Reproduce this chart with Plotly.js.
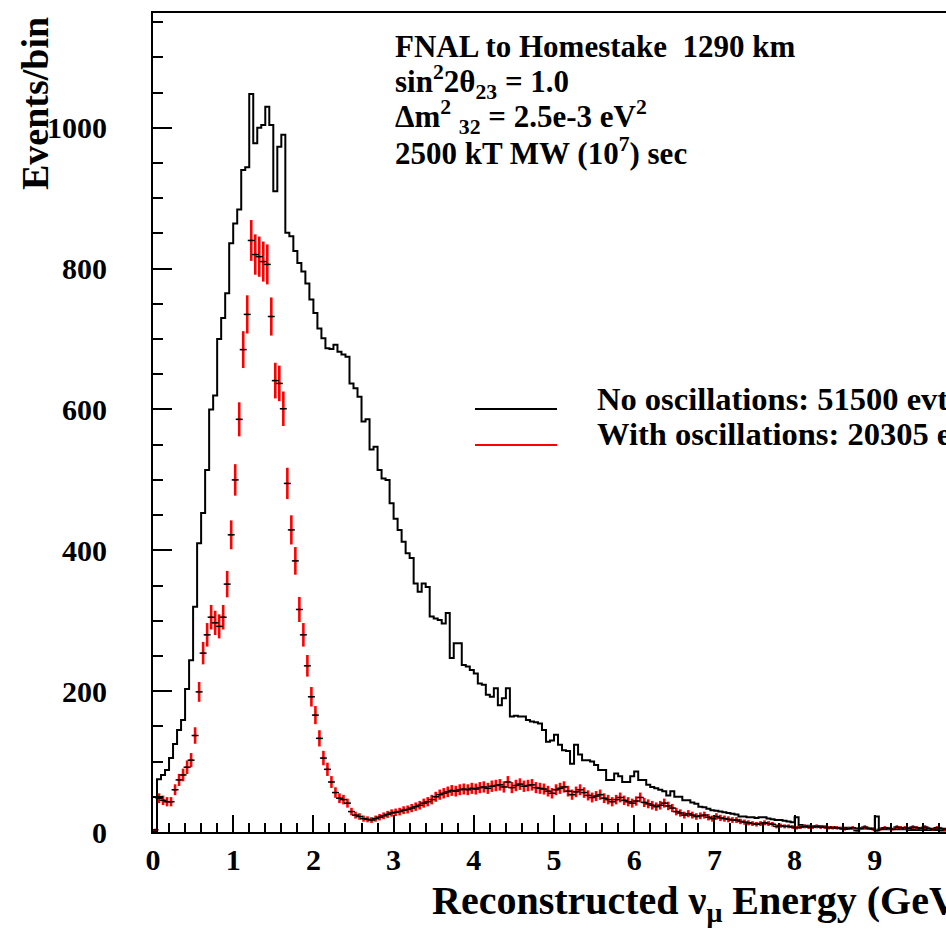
<!DOCTYPE html>
<html>
<head>
<meta charset="utf-8">
<script src="https://cdn.plot.ly/plotly-3.0.1.min.js"></script>
<style>
  html, body { margin: 0; padding: 0; overflow: hidden; background: #ffffff; }
  #chart { width: 1000px; height: 930px; }
</style>
</head>
<body>
<div id="chart"></div>
<script>
// ---------------- data ----------------
const binWidth = 0.05;   // GeV, 200 bins from 0 to 10 GeV

// Events/bin without oscillations (black histogram)
const noOscCounts = [
  0, 75, 81, 88, 105, 125, 145, 159, 203, 244,
  320, 410, 453, 514, 600, 620, 700, 730, 765, 836,
  864, 884, 940, 944, 1048, 978, 1000, 1004, 1030, 1004,
  910, 973, 990, 851, 846, 825, 808, 796, 779, 756,
  737, 715, 701, 687, 686, 692, 682, 678, 675, 637,
  630, 618, 583, 586, 543, 547, 514, 502, 500, 467,
  445, 429, 412, 396, 389, 353, 341, 353, 348, 306,
  303, 301, 296, 311, 247, 268, 268, 237, 235, 230,
  225, 211, 209, 195, 192, 204, 180, 190, 204, 164,
  165, 164, 164, 159, 157, 156, 154, 145, 128, 130,
  138, 124, 116, 115, 97, 124, 110, 102, 102, 100,
  95, 88, 88, 74, 74, 83, 79, 71, 71, 79,
  86, 74, 74, 67, 64, 62, 60, 58, 52, 58,
  50, 50, 45, 45, 42, 40, 36, 35, 33, 31,
  30, 29, 28, 27, 26, 25, 22, 22, 21, 21,
  20, 21, 21, 19, 18, 17, 17, 16, 15, 14,
  21, 10, 9, 9, 8, 8, 8, 7, 7, 7,
  6, 6, 6, 6, 5, 5, 5, 5, 5, 5,
  22, 5, 4, 4, 4, 4, 4, 4, 3, 3,
  3, 3, 3, 3, 3, 3, 2, 2, 2, 2
];

// Events/bin with oscillations (red points with error bars)
const oscCounts = [
  3, 48, 45, 43, 43, 60, 74, 81, 92, 102,
  137, 199, 254, 280, 305, 297, 292, 305, 352, 422,
  500, 586, 685, 735, 840, 820, 817, 810, 806, 732,
  641, 637, 601, 495, 429, 385, 316, 280, 236, 192,
  166, 133, 105, 89, 71, 56, 48, 46, 41, 29,
  24, 22, 19, 18, 17, 19, 21, 23, 25, 27,
  28, 29, 31, 32, 34, 36, 38, 41, 43, 46,
  50, 53, 55, 57, 59, 58, 60, 61, 60, 62,
  61, 63, 64, 62, 65, 66, 67, 64, 71, 63,
  66, 68, 65, 66, 67, 63, 62, 61, 58, 55,
  60, 62, 64, 58, 53, 57, 60, 56, 52, 49,
  51, 53, 48, 46, 43, 46, 49, 45, 43, 41,
  44, 49, 42, 40, 38, 36, 38, 41, 37, 34,
  29, 27, 24, 26, 24, 22, 23, 24, 21, 19,
  22, 20, 19, 18, 17, 17, 15, 14, 13, 12,
  11, 12, 13, 12, 11, 8, 9, 8, 8, 7,
  6, 7, 8, 7, 7, 8, 7, 7, 6, 6,
  6, 5, 4, 5, 6, 2, 5, 7, 5, 4,
  2, 4, 6, 5, 4, 7, 6, 6, 5, 7,
  6, 5, 7, 5, 4, 6, 5, 4, 5, 4
];

const xTickVals = [0, 1, 2, 3, 4, 5, 6, 7, 8, 9];
const yTickVals = [0, 200, 400, 600, 800, 1000];

const infoLines = [
  "FNAL to Homestake\u00A0 1290 km",
  "sin<sup>2</sup>2\u03B8<sub>23</sub> = 1.0",
  "\u0394m<sup>2</sup> <sub>32</sub> = 2.5e-3 eV<sup>2</sup>",
  "2500 kT MW (10<sup>7</sup>) sec"
];
const legendLabels = [
  "No oscillations: 51500 evts",
  "With oscillations: 20305 evts"
];
const legendColors = ["#000000", "#ff0000"];
const xTitle = "Reconstructed \u03BD<sub>\u03BC</sub> Energy (GeV)";
const yTitle = "Events/bin";

// ---------------- build traces ----------------
const nBins = noOscCounts.length;
const stepX = [0];
const stepY = [0];
for (let i = 0; i < nBins; i++) { stepX.push(i * binWidth); stepY.push(noOscCounts[i]); }
stepX.push(nBins * binWidth); stepY.push(noOscCounts[nBins - 1]);

const centers = oscCounts.map((_, i) => i * binWidth + binWidth / 2);

const FONT = "Liberation Serif, Times New Roman, serif";

const traces = [
  {
    type: "scatter", mode: "lines",
    x: stepX, y: stepY,
    line: { shape: "hv", color: "#000000", width: 2 },
    hoverinfo: "skip"
  },
  {
    type: "scatter", mode: "markers",
    x: centers, y: oscCounts,
    marker: { symbol: "line-ew", size: 5, color: "#000000", line: { color: "#000000", width: 1.5 } },
    error_y: { type: "sqrt", color: "#ff0000", thickness: 2.6, width: 0 },
    error_x: { type: "constant", value: binWidth / 2, color: "#ff0000", thickness: 1.5, width: 0 },
    hoverinfo: "skip"
  }
];

// ---------------- layout ----------------
const L = 153, R = 955, T = 13, B = 832;   // plot box in pixels
const px2x = p => (p - L) / (R - L);
const py2y = p => (B - p) / (B - T);

const annotations = [];
const lineCenters = [47, 82, 117, 152];
infoLines.forEach((t, i) => {
  annotations.push({
    xref: "paper", yref: "paper", x: px2x(393), y: py2y(lineCenters[i]),
    xanchor: "left", yanchor: "middle", showarrow: false, align: "left",
    text: t, font: { family: FONT, size: 31, color: "#000000", weight: "bold" }
  });
});
const legendCenters = [399, 434];
legendLabels.forEach((t, i) => {
  annotations.push({
    xref: "paper", yref: "paper", x: px2x(595), y: py2y(legendCenters[i]),
    xanchor: "left", yanchor: "middle", showarrow: false, align: "left",
    text: t, font: { family: FONT, size: 32.5, color: "#000000", weight: "bold" }
  });
});
annotations.push({
  xref: "paper", yref: "paper", x: px2x(430), y: py2y(903),
  xanchor: "left", yanchor: "middle", showarrow: false,
  text: xTitle, font: { family: FONT, size: 40, color: "#000000", weight: "bold" }
});
annotations.push({
  xref: "paper", yref: "paper", x: px2x(35), y: py2y(104),
  xanchor: "center", yanchor: "middle", showarrow: false, textangle: -90,
  text: yTitle, font: { family: FONT, size: 38, color: "#000000", weight: "bold" }
});

const legendLineY = [409, 445];
const shapes = legendLineY.map((py, i) => ({
  type: "line", xref: "paper", yref: "paper",
  x0: px2x(475), x1: px2x(557), y0: py2y(py), y1: py2y(py),
  line: { color: legendColors[i], width: 2 }
}));

const tickFont = { family: FONT, size: 30, color: "#000000", weight: "bold" };

const layout = {
  width: 1000, height: 930,
  margin: { l: L, r: 1000 - R, t: T, b: 930 - B, pad: 0 },
  paper_bgcolor: "#ffffff", plot_bgcolor: "#ffffff",
  showlegend: false,
  xaxis: {
    range: [0, 10],
    tickmode: "array", tickvals: xTickVals, ticktext: xTickVals.map(String),
    ticks: "inside", ticklen: 17, tickwidth: 2, tickcolor: "#000000",
    showline: true, linewidth: 2, linecolor: "#000000", mirror: true,
    showgrid: false, zeroline: false,
    tickfont: tickFont, ticklabelstandoff: 0,
    minor: { tickmode: "linear", tick0: 0, dtick: 0.2, ticks: "inside", ticklen: 9, tickwidth: 2, tickcolor: "#000000", showgrid: false }
  },
  yaxis: {
    range: [0, 1163],
    tickmode: "array", tickvals: yTickVals, ticktext: yTickVals.map(String),
    ticks: "inside", ticklen: 19, tickwidth: 2, tickcolor: "#000000",
    showline: true, linewidth: 2, linecolor: "#000000", mirror: true,
    showgrid: false, zeroline: false,
    tickfont: tickFont, ticklabelstandoff: 38,
    minor: { tickmode: "linear", tick0: 0, dtick: 50, ticks: "inside", ticklen: 10, tickwidth: 2, tickcolor: "#000000", showgrid: false }
  },
  annotations: annotations,
  shapes: shapes
};

Plotly.newPlot("chart", traces, layout, { staticPlot: true, displayModeBar: false });
</script>
</body>
</html>
